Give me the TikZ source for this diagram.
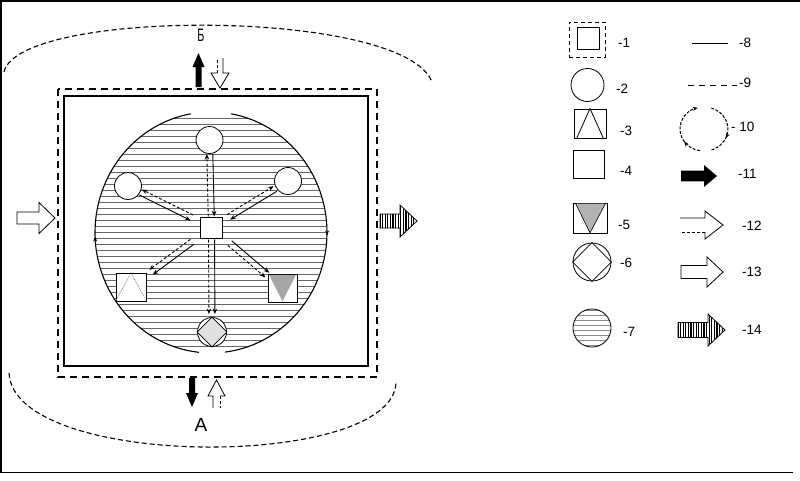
\documentclass[tikz,border=0pt]{standalone}
\usepackage{fontspec}
\setmainfont{Liberation Sans}
\usetikzlibrary{arrows.meta,calc,decorations.markings}

\tikzset{
  circ/.style={circle,draw,fill=white,inner sep=0pt,line width=0.8pt},
  sqr/.style={rectangle,draw,fill=white,inner sep=0pt,line width=0.8pt},
  lbl/.style={anchor=west,inner sep=0pt,font=\fontsize{13.5}{14}\selectfont},
  flow/.style={line width=0.9pt,-{Stealth[length=5.5pt,width=4.5pt]}},
  dflow/.style={flow,dash pattern=on 3pt off 2pt},
  rectdash/.style={line width=1.3pt,dash pattern=on 7pt off 5pt},
  arcdash/.style={line width=1.1pt,dash pattern=on 5pt off 3pt},
  hatch/.style={line width=1pt,black!60},
  lhatch/.style={line width=1pt,black!45},
  ellline/.style={line width=1.1pt},
  tip/.style={decoration={markings,mark=at position #1 with {\arrow{Stealth[length=5pt,width=4pt]}}},postaction={decorate}},
}

% two opposite arrows between nodes: from, to, shorten at from, shorten at to, side, -side
\newcommand\twoway[6]{%
  \draw[flow,shorten <=#3pt,shorten >=#4pt] ($(#1.center)!3pt!#5:(#2.center)$) -- ($(#2.center)!3pt!#6:(#1.center)$);
  \draw[dflow,shorten <=#4pt,shorten >=#3pt] ($(#2.center)!3pt!#5:(#1.center)$) -- ($(#1.center)!3pt!#6:(#2.center)$);
}
% two parallel arrows from one node to another
\newcommand\oneway[4]{%
  \draw[flow,shorten <=#3pt,shorten >=#4pt] ($(#1.center)!3pt!90:(#2.center)$) -- ($(#2.center)!3pt!-90:(#1.center)$);
  \draw[dflow,shorten <=#3pt,shorten >=#4pt] ($(#1.center)!3pt!-90:(#2.center)$) -- ($(#2.center)!3pt!90:(#1.center)$);
}
% block arrow: style, transform, length, head start, shaft half, head half
\newcommand\blockarrow[6]{\begin{scope}[#2]
  \path[#1] (0,-#5) -- (#4,-#5) -- (#4,-#6) -- (#3,0) -- (#4,#6) -- (#4,#5) -- (0,#5) -- cycle;
\end{scope}}
% arrow with one solid and one dashed side: transform, length, head start, shaft half, head half
\newcommand\halfarrow[5]{\begin{scope}[#1]
  \draw[line width=0.8pt] (0,-#4) -- (#3,-#4) -- (#3,-#5) -- (#2,0) -- (#3,#5) -- (#3,#4);
  \draw[line width=0.8pt,dash pattern=on 3pt off 2pt] (#3,#4) -- (0,#4);
\end{scope}}
% striped arrow: transform, length, head start, shaft half, head half
\newcommand\stripearrow[5]{\begin{scope}[#1]
  \begin{scope}
    \clip (0,-#4) -- (#3,-#4) -- (#3,-#5) -- (#2,0) -- (#3,#5) -- (#3,#4) -- (0,#4) -- cycle;
    \foreach \s in {0,2.6,...,#2} \draw[line width=1.1pt] (\s,-20) -- (\s,20);
  \end{scope}
  \draw[line width=0.8pt] (0,-#4) -- (#3,-#4) -- (#3,-#5) -- (#2,0) -- (#3,#5) -- (#3,#4) -- (0,#4) -- cycle;
\end{scope}}

\begin{document}
\begin{tikzpicture}[x=1pt,y=-1pt]
\useasboundingbox (0,0) rectangle (800,480);

% frame
\draw[line width=1.5pt] (0,1) -- (800,1);
\draw[line width=1.5pt] (1,0) -- (1,472.5);
\draw[line width=1.5pt] (0,472.5) -- (793,472.5);

% outer dashed arcs
\draw[arcdash] (4,72) .. controls (18,8) and (404,8) .. (432,82);
\draw[arcdash] (9,373) .. controls (14,470) and (392,470) .. (396,383);

% boundaries
\draw[rectdash] (58,89) rectangle (377,377);
\draw[line width=1.8pt] (64,96) rectangle (368,366);

% hatched ellipse
\begin{scope}
  \clip (211,232.5) ellipse [x radius=116, y radius=120.5];
  \foreach \y in {118,124,...,350} \draw[hatch] (90,\y) -- (330,\y);
\end{scope}
\draw[ellline,tip=0.5] (231.1,113.8) arc[start angle=-80, end angle=83, x radius=116, y radius=120.5];
\draw[ellline,tip=0.5] (198.9,352.3) arc[start angle=96, end angle=260, x radius=116, y radius=120.5];

% inner elements
\node[circ,minimum size=27pt] (T) at (209.5,140) {};
\node[circ,minimum size=27pt] (L) at (128,186) {};
\node[circ,minimum size=27pt] (R) at (288,181) {};
\node[sqr,minimum width=22pt,minimum height=21pt] (C) at (211.5,227.5) {};
\node[sqr,minimum width=30pt,minimum height=28pt] (BL) at (131,287) {};
\draw[black!55,line width=0.6pt,dash pattern=on 1pt off 1pt] (BL.south west) -- (BL.north) -- (BL.south east);
\node[sqr,minimum width=29pt,minimum height=28pt] (BR) at (282.5,288) {};
\fill[black!35] ($(BR.north west)+(1.5,1.2)$) -- ($(BR.south)+(0,-1)$) -- ($(BR.north east)+(-1.5,1.2)$) -- cycle;
\node[circ,minimum size=29pt] (B) at (212,332) {};
\draw[line width=0.8pt,fill=black!12] (B.north) -- (B.east) -- (B.south) -- (B.west) -- cycle;

% flows
\twoway{T}{C}{14}{11}{90}{-90}
\twoway{L}{C}{14}{22}{-90}{90}
\twoway{R}{C}{15}{20}{90}{-90}
\oneway{C}{BL}{24}{25}
\oneway{C}{BR}{24}{20}
\oneway{C}{B}{12}{18}

% external arrows
\blockarrow{draw,fill=white,line width=0.8pt}{shift={(17,218)}}{38}{22}{6}{15.5}
\stripearrow{shift={(380,221)}}{37}{20}{7}{16}
\blockarrow{fill=black}{shift={(198.5,87)},rotate=90}{34}{20}{3}{6}
\halfarrow{shift={(220,58)},rotate=-90}{30}{15}{3}{9}
\blockarrow{fill=black}{shift={(192,378)},rotate=-90}{29}{15}{3}{6}
\halfarrow{shift={(216.5,408)},rotate=90}{28}{12}{3.5}{8.5}
\node[inner sep=0pt,font=\fontsize{18}{18}\selectfont] (lb) at (201,35) {\scalebox{0.6}[1]{Б}};
\node[inner sep=0pt,font=\fontsize{19}{19}\selectfont] (la) at (201,425) {А};

% legend, left column
\node[draw,line width=1pt,dash pattern=on 4pt off 3pt,minimum width=36pt,minimum height=35pt,inner sep=0pt] (k1) at (587,39.5) {};
\node[sqr,minimum size=22pt] (k1i) at (588,38.5) {};
\node[lbl] (l1) at (618,43) {-1};
\node[circ,minimum size=33pt] (k2) at (587.5,85) {};
\node[lbl] (l2) at (616,89) {-2};
\node[sqr,minimum width=32pt,minimum height=29pt] (k3) at (590,123.5) {};
\draw[line width=0.8pt] ($(k3.south west)+(3,0)$) -- (k3.north) -- ($(k3.south east)+(-3,0)$);
\node[lbl] (l3) at (620,131) {-3};
\node[sqr,minimum width=31pt,minimum height=28pt] (k4) at (588.5,164) {};
\node[lbl] (l4) at (620,171) {-4};
\node[sqr,minimum width=34pt,minimum height=30pt] (k5) at (590,218) {};
\fill[black!30] ($(k5.north west)+(3,1)$) -- ($(k5.south)+(0,-0.5)$) -- ($(k5.north east)+(-2,1)$) -- cycle;
\draw[line width=0.6pt] ($(k5.north west)+(3,1)$) -- ($(k5.south)+(0,-0.5)$) -- ($(k5.north east)+(-2,1)$);
\node[lbl] (l5) at (618,225) {-5};
\node[circ,minimum size=38pt] (k6) at (592,262) {};
\draw[line width=0.8pt] (k6.north) -- (k6.east) -- (k6.south) -- (k6.west) -- cycle;
\node[lbl] (l6) at (620,263) {-6};
\begin{scope}
  \clip (592,328) circle [radius=19];
  \foreach \y in {310,315,...,346} \draw[lhatch] (570,\y) -- (615,\y);
\end{scope}
\node[circle,draw,line width=0.8pt,minimum size=38pt,inner sep=0pt] (k7) at (592,328) {};
\node[lbl] (l7) at (623,332) {-7};

% legend, right column
\draw[line width=0.8pt] (692,43) -- (728,43);
\node[lbl] (l8) at (739,43) {-8};
\draw[line width=1pt,dash pattern=on 6pt off 5pt] (688,85) -- (737,85);
\node[lbl] (l9) at (739,83) {-9};
\draw[line width=1pt,dash pattern=on 3pt off 1.5pt,tip=0.3,-{Stealth[length=5pt,width=4pt]}] (699.8,150.7) arc[start angle=100, end angle=255, x radius=24, y radius=22];
\draw[line width=1pt,dash pattern=on 3pt off 1.5pt,tip=0.65] (711.4,108.1) arc[start angle=-72, end angle=75, x radius=24, y radius=22];
\node[lbl] (l10) at (731,127) {- 10};
\blockarrow{fill=black}{shift={(681,176)}}{36}{23}{5.3}{11}
\node[lbl] (l11) at (738,174) {-11};
\halfarrow{shift={(680,225)}}{43}{25}{7}{14}
\node[lbl] (l12) at (742,226) {-12};
\blockarrow{draw,fill=white,line width=0.8pt}{shift={(681,272)}}{42}{26}{6.5}{15}
\node[lbl] (l13) at (742,272) {-13};
\stripearrow{shift={(678,330)}}{47}{30}{7.5}{16}
\node[lbl] (l14) at (742,330) {-14};
\end{tikzpicture}
\end{document}
